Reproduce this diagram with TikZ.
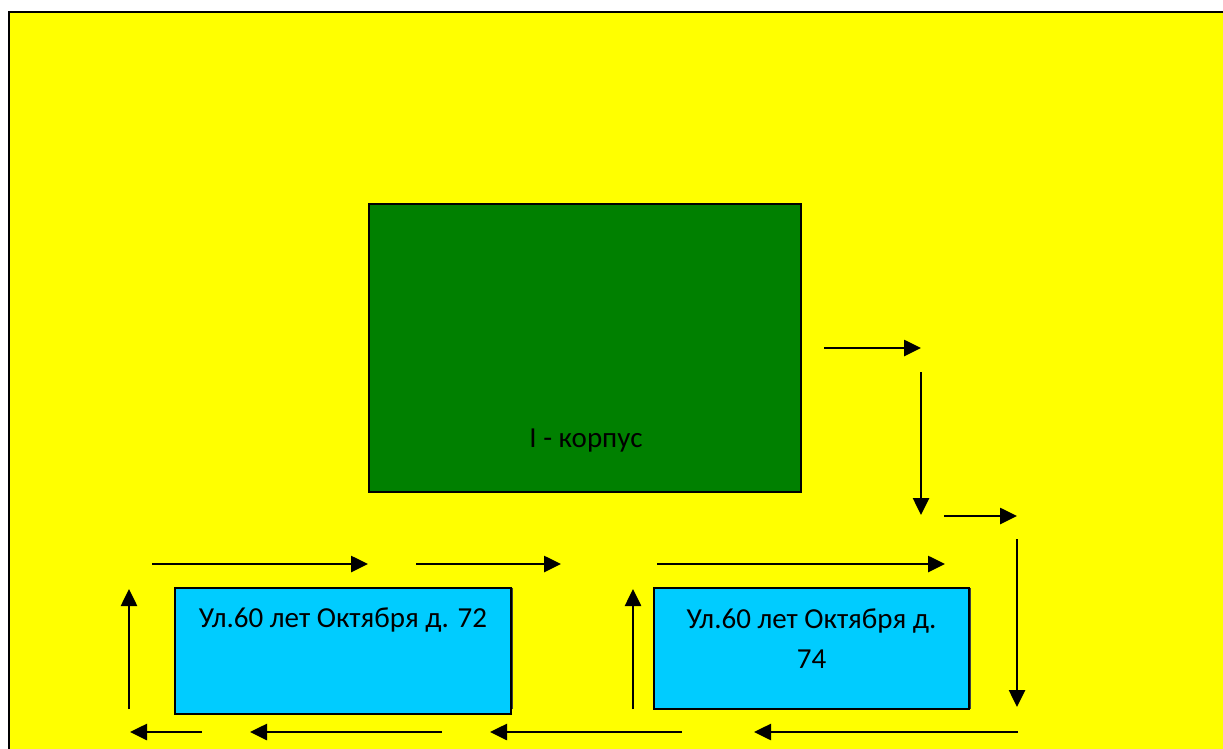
\documentclass[tikz,border=0pt]{standalone}
\usepackage{fontspec}
\setmainfont{Carlito}
\usetikzlibrary{arrows.meta}
\definecolor{bgyellow}{HTML}{FFFF00}
\definecolor{bldgreen}{HTML}{008000}
\definecolor{bldcyan}{HTML}{00CCFF}
\begin{document}
\begin{tikzpicture}[x=1pt,y=-1pt,
  flow/.style={line width=2.6pt,-{Triangle[length=17pt,width=16pt]}},
  bld/.style={draw=black,line width=1.8pt,inner sep=0pt,outer sep=0pt},
  shadowbox/.style={fill=black!75},
  boxtext/.style={inner sep=0pt,anchor=base,font=\fontsize{29}{40}\selectfont,align=center},
  maintext/.style={inner sep=0pt,anchor=base,font=\fontsize{29}{34}\selectfont}]
\useasboundingbox (0,0) rectangle (1223,749);
\clip (0,0) rectangle (1223,749);
\fill[white] (0,0) rectangle (1223,749);
\draw[fill=bgyellow,line width=2.2pt] (9,12) rectangle (1240,770);
% buildings
\node[bld,fill=bldgreen,minimum width=432pt,minimum height=288pt] (korpus) at (585,348) {};
\node[maintext] (korpustext) at (586,447) {I - корпус};
\fill[shadowbox] (177,588) rectangle (513,709);
\node[bld,fill=bldcyan,minimum width=336pt,minimum height=126pt] (d72) at (343,651) {};
\node[boxtext] (d72text) at (343,627) {Ул.60 лет Октября д. 72};
\fill[shadowbox] (656,588) rectangle (971,709);
\node[bld,fill=bldcyan,minimum width=315pt,minimum height=121pt] (d74) at (811.5,648.5) {};
\node[boxtext] (d74text) at (811.5,668) {Ул.60 лет Октября д.\\74};
% arrow end points
\coordinate (a1s) at (824,348);  \coordinate (a1e) at (921,348);
\coordinate (a2s) at (921,372);  \coordinate (a2e) at (921,515);
\coordinate (a3s) at (944,516);  \coordinate (a3e) at (1017,516);
\coordinate (a4s) at (1017,539); \coordinate (a4e) at (1017,707);
\coordinate (a5s) at (1018,732); \coordinate (a5e) at (754,732);
\coordinate (a6s) at (682,732);  \coordinate (a6e) at (490,732);
\coordinate (a7s) at (442,732);  \coordinate (a7e) at (250,732);
\coordinate (a8s) at (202,732);  \coordinate (a8e) at (130,732);
\coordinate (a9s) at (129,709);  \coordinate (a9e) at (129,589);
\coordinate (a10s) at (152,564); \coordinate (a10e) at (368,564);
\coordinate (a11s) at (416,564); \coordinate (a11e) at (561,564);
\coordinate (a12s) at (633,709); \coordinate (a12e) at (633,589);
\coordinate (a13s) at (657,564); \coordinate (a13e) at (945,564);
\foreach \i in {1,...,13} {\draw[flow] (a\i s) -- (a\i e);}
\end{tikzpicture}
\end{document}
